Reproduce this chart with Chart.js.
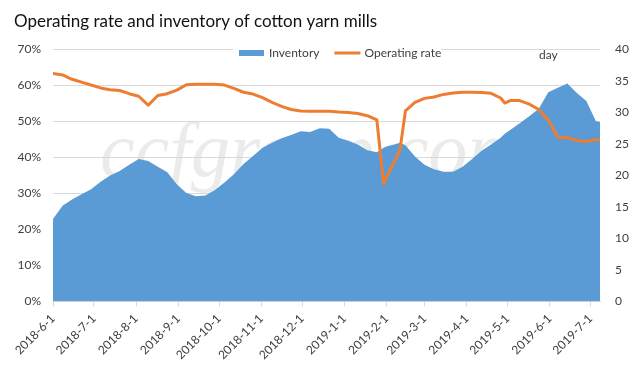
<!DOCTYPE html>
<html>
<head>
<meta charset="utf-8">
<script src="https://cdn.jsdelivr.net/npm/chart.js@4.4.0/dist/chart.umd.min.js"></script>
<style>
  html, body { margin: 0; padding: 0; background: #fff; }
</style>
</head>
<body>
<canvas id="myChart" width="642" height="380"></canvas>
<script>
const dates = [
  '2018-06-01', '2018-06-08', '2018-06-15', '2018-06-22', '2018-06-29',
  '2018-07-06', '2018-07-13', '2018-07-20', '2018-07-27',
  '2018-08-03', '2018-08-10', '2018-08-17', '2018-08-24', '2018-08-31',
  '2018-09-07', '2018-09-14', '2018-09-21', '2018-09-28',
  '2018-10-05', '2018-10-12', '2018-10-19', '2018-10-26',
  '2018-11-02', '2018-11-09', '2018-11-16', '2018-11-23', '2018-11-30',
  '2018-12-07', '2018-12-14', '2018-12-21', '2018-12-28',
  '2019-01-04', '2019-01-11', '2019-01-18', '2019-01-25', '2019-01-30',
  '2019-02-01', '2019-02-08', '2019-02-11', '2019-02-15', '2019-02-22',
  '2019-03-01', '2019-03-08', '2019-03-15', '2019-03-22', '2019-03-29',
  '2019-04-05', '2019-04-12', '2019-04-19', '2019-04-26', '2019-04-29',
  '2019-05-03', '2019-05-10', '2019-05-17', '2019-05-24', '2019-05-31',
  '2019-06-07', '2019-06-14', '2019-06-21', '2019-06-28',
  '2019-07-05', '2019-07-08'
];

// days of inventory (right axis)
const inventory = [
  13.1, 15.2, 16.2, 17.0, 17.8,
  19.0, 20.0, 20.7, 21.7,
  22.6, 22.3, 21.4, 20.5, 18.6,
  17.2, 16.7, 16.8, 17.7,
  18.9, 20.2, 21.8, 23.1,
  24.4, 25.2, 25.9, 26.4, 27.0,
  26.9, 27.5, 27.4, 26.0,
  25.5, 24.9, 24.0, 23.7, 24.4,
  24.6, 25.0, 25.2, 24.8, 23.0,
  21.7, 21.0, 20.6, 20.6, 21.4,
  22.6, 23.9, 24.9, 26.0, 26.6,
  27.2, 28.3, 29.4, 30.6, 33.2,
  33.9, 34.6, 33.1, 31.8,
  28.6, 28.5
];

// operating rate, % (left axis)
const operatingRate = [
  63.3, 62.9, 61.7, 60.9, 60.1,
  59.3, 58.8, 58.6, 57.7,
  57.0, 54.5, 57.2, 57.7, 58.7,
  60.2, 60.3, 60.3, 60.3,
  60.1, 59.2, 58.1, 57.6,
  56.6, 55.3, 54.2, 53.3, 52.9,
  52.8, 52.8, 52.8, 52.6,
  52.5, 52.2, 51.6, 50.4, 32.6,
  34.4, 39.7, 42.1, 52.9, 55.3,
  56.4, 56.8, 57.5, 57.9, 58.1,
  58.1, 58.0, 57.8, 56.5, 55.1,
  55.8, 55.8, 54.8, 53.3, 50.3,
  45.7, 45.5, 44.7, 44.4,
  45.0, 45.0
];

const monthLabels = [
  '2018-6-1', '2018-7-1', '2018-8-1', '2018-9-1', '2018-10-1', '2018-11-1', '2018-12-1',
  '2019-1-1', '2019-2-1', '2019-3-1', '2019-4-1', '2019-5-1', '2019-6-1', '2019-7-1'
];

const FONT = 'Lato';
const BLUE = '#5b9bd5';
const ORANGE = '#ed7d31';

const toDay = (s) => {
  const [y, m, d] = s.split('-').map(Number);
  return Math.round((Date.UTC(y, m - 1, d) - Date.UTC(2018, 5, 1)) / 86400000);
};
const monthDays = monthLabels.map(toDay);
const dayLabel = {};
monthDays.forEach((d, i) => { dayLabel[d] = monthLabels[i]; });

const invPoints = dates.map((d, i) => ({ x: toDay(d), y: inventory[i] }));
const ratePoints = dates.map((d, i) => ({ x: toDay(d), y: operatingRate[i] }));

// faint site watermark behind the data
const watermark = {
  id: 'watermark',
  beforeDatasetsDraw(chart) {
    const c = chart.ctx;
    c.save();
    c.font = 'italic 78px "Liberation Serif"';
    c.fillStyle = 'rgba(215,215,215,0.5)';
    c.textBaseline = 'alphabetic';
    c.fillText('ccfgroup.com', 100, 176);
    c.restore();
  }
};

// legend sits on top of the 70% gridline, plus the "day" unit note
const legendBox = {
  id: 'legendBox',
  afterDraw(chart) {
    const c = chart.ctx;
    c.save();
    c.font = '12px ' + FONT;
    c.textBaseline = 'middle';
    const y = 53;
    let x = 239;
    const w1 = c.measureText('Inventory').width;
    const w2 = c.measureText('Operating rate').width;
    c.fillStyle = '#fff';
    c.fillRect(x - 6, 44, 25 + 5 + w1 + 15 + 26 + 4 + w2 + 6, 16);
    c.fillStyle = BLUE;
    c.fillRect(x, 50, 25, 6);
    x += 30;
    c.fillStyle = '#404040';
    c.fillText('Inventory', x, y);
    x += w1 + 15;
    c.strokeStyle = ORANGE;
    c.lineWidth = 3;
    c.beginPath();
    c.moveTo(x, y);
    c.lineTo(x + 26, y);
    c.stroke();
    x += 30;
    c.fillText('Operating rate', x, y);
    c.fillText('day', 539, 55);
    c.restore();
  }
};

const ctx = document.getElementById('myChart').getContext('2d');

const config = {
  type: 'line',
  data: {
    datasets: [{
      label: 'Inventory',
      data: invPoints,
      yAxisID: 'y1',
      backgroundColor: BLUE,
      borderWidth: 0,
      fill: 'origin',
      pointRadius: 0,
      order: 2
    }, {
      label: 'Operating rate',
      data: ratePoints,
      yAxisID: 'y',
      borderColor: ORANGE,
      borderWidth: 3,
      borderJoinStyle: 'round',
      fill: false,
      pointRadius: 0,
      order: 1
    }]
  },
  options: {
    responsive: false,
    animation: false,
    devicePixelRatio: 1,
    layout: { padding: { left: 14, right: 0, top: 0, bottom: 0 } },
    scales: {
      x: {
        type: 'linear',
        min: 0,
        max: toDay(dates[dates.length - 1]),
        afterBuildTicks: (s) => { s.ticks = monthDays.map(v => ({ value: v })); },
        afterFit: (s) => { s.height = 78.5; },
        grid: { drawOnChartArea: false, drawTicks: true, tickLength: 5, color: '#d9d9d9' },
        border: { color: '#d9d9d9' },
        ticks: {
          autoSkip: false,
          minRotation: 45,
          maxRotation: 45,
          padding: 5,
          color: '#404040',
          font: { family: FONT, size: 12 },
          callback: (v) => dayLabel[v]
        }
      },
      y: {
        position: 'left',
        min: 0,
        max: 70,
        afterFit: (s) => { s.width = 39; },
        grid: { color: '#d9d9d9', drawTicks: false },
        border: { display: false },
        ticks: {
          stepSize: 10,
          padding: 12,
          color: '#404040',
          font: { family: FONT, size: 12 },
          callback: (v) => v + '%'
        }
      },
      y1: {
        position: 'right',
        min: 0,
        max: 40,
        afterFit: (s) => { s.width = 42; },
        grid: { display: false, drawTicks: false },
        border: { display: false },
        ticks: {
          stepSize: 5,
          padding: 15,
          color: '#404040',
          font: { family: FONT, size: 12 }
        }
      }
    },
    plugins: {
      legend: { display: false },
      tooltip: { enabled: false },
      title: {
        display: true,
        text: 'Operating rate and inventory of cotton yarn mills',
        align: 'start',
        color: '#111',
        font: { family: FONT, size: 17, weight: 'normal' },
        padding: { top: 11, bottom: 18 }
      }
    }
  },
  plugins: [watermark, legendBox]
};

let myChart = new Chart(ctx, config);
</script>
</body>
</html>
